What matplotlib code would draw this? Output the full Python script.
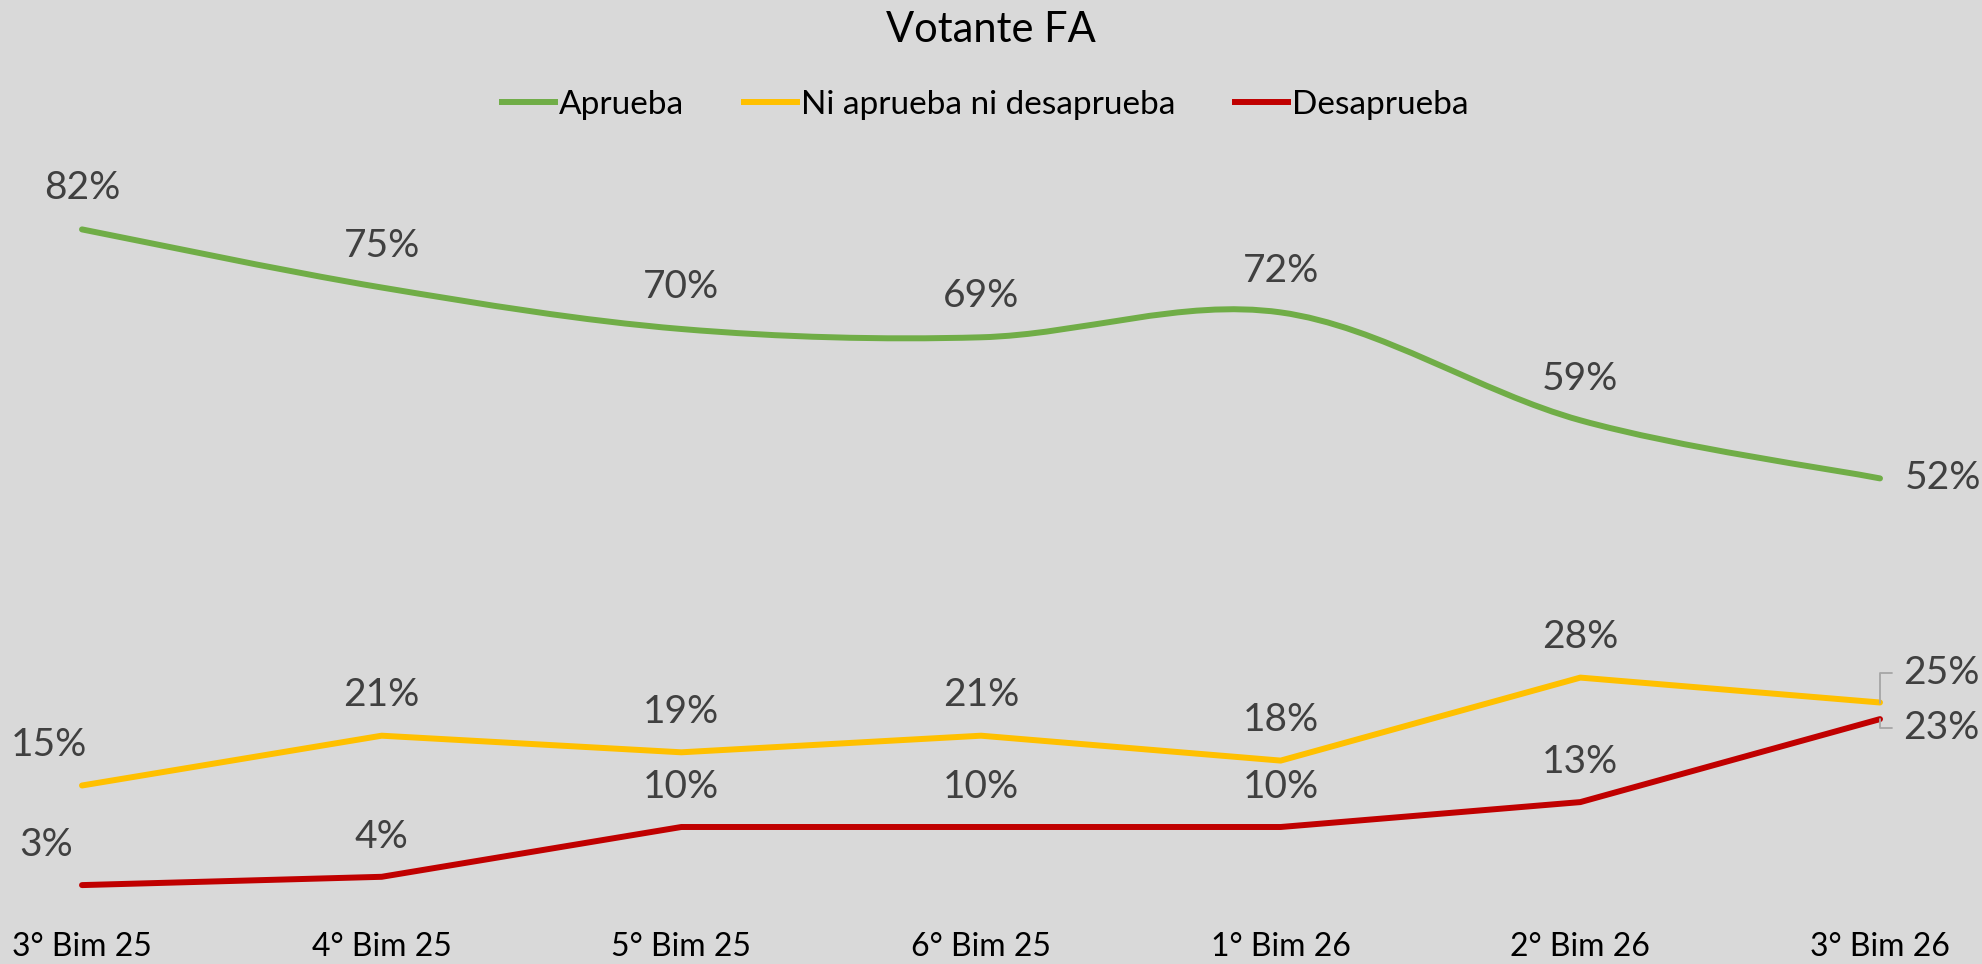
import matplotlib
matplotlib.use('Agg')
import matplotlib.pyplot as plt
from matplotlib.path import Path
from matplotlib.patches import PathPatch
from matplotlib.lines import Line2D

plt.rcParams['font.family'] = ['Lato', 'DejaVu Sans']

periodos = ['3° Bim 25', '4° Bim 25', '5° Bim 25', '6° Bim 25', '1° Bim 26', '2° Bim 26', '3° Bim 26']
aprueba = [82, 75, 70, 69, 72, 59, 52]
ni_ni = [15, 21, 19, 21, 18, 28, 25]
desaprueba = [3, 4, 10, 10, 10, 13, 23]

BG = '#D9D9D9'
VERDE = '#70AD47'
AMARILLO = '#FFC000'
ROJO = '#C00000'
LW = 4.3


def smooth_path(xs, ys):
    # curva suavizada estilo Excel (bezier tipo Catmull-Rom)
    pts = list(zip(xs, ys))
    n = len(pts)
    verts = [pts[0]]
    codes = [Path.MOVETO]
    for i in range(n - 1):
        p0 = pts[i - 1] if i > 0 else pts[i]
        p1 = pts[i]
        p2 = pts[i + 1]
        p3 = pts[i + 2] if i + 2 < n else pts[i + 1]
        c1 = (p1[0] + (p2[0] - p0[0]) / 6, p1[1] + (p2[1] - p0[1]) / 6)
        c2 = (p2[0] - (p3[0] - p1[0]) / 6, p2[1] - (p3[1] - p1[1]) / 6)
        verts += [c1, c2, p2]
        codes += [Path.CURVE4] * 3
    return Path(verts, codes)


fig = plt.figure(figsize=(19.82, 9.64), dpi=100, facecolor=BG)
ax = fig.add_axes([82 / 1982, 54 / 964, (1880 - 82) / 1982, 830 / 964])
ax.set_facecolor(BG)
ax.set_xlim(0, 6)
ax.set_ylim(0, 100)

x = list(range(len(periodos)))

patch = PathPatch(smooth_path(x, aprueba), fill=False, edgecolor=VERDE, lw=LW,
                  capstyle='round', joinstyle='round', clip_on=False)
ax.add_patch(patch)
ax.plot(x, ni_ni, color=AMARILLO, lw=LW, solid_capstyle='round', solid_joinstyle='round', clip_on=False)
ax.plot(x, desaprueba, color=ROJO, lw=LW, solid_capstyle='round', solid_joinstyle='round', clip_on=False)

lab = dict(fontsize=28, color='#404040', textcoords='offset points', va='center')
for i, v in enumerate(aprueba):
    if i == len(aprueba) - 1:
        ax.annotate(f'{v}%', (i, v), xytext=(18, 0), ha='left', **lab)
    else:
        ax.annotate(f'{v}%', (i, v), xytext=(0, 30), ha='center', **lab)

for i, v in enumerate(ni_ni):
    if i == len(ni_ni) - 1:
        ax.annotate(f'{v}%', (i, v), xytext=(17, 21), ha='left',
                    arrowprops=dict(arrowstyle='-', color='#A6A6A6', lw=1.3,
                                    connectionstyle='angle,angleA=0,angleB=90,rad=0',
                                    shrinkA=6, shrinkB=0), **lab)
    else:
        dx = -24 if i == 0 else 0
        ax.annotate(f'{v}%', (i, v), xytext=(dx, 29), ha='center', **lab)

for i, v in enumerate(desaprueba):
    if i == len(desaprueba) - 1:
        ax.annotate(f'{v}%', (i, v), xytext=(17, -6.5), ha='left',
                    arrowprops=dict(arrowstyle='-', color='#A6A6A6', lw=1.3,
                                    connectionstyle='angle,angleA=0,angleB=90,rad=0',
                                    shrinkA=6, shrinkB=0), **lab)
    else:
        dx = -26 if i == 0 else 0
        ax.annotate(f'{v}%', (i, v), xytext=(dx, 29), ha='center', **lab)

ax.set_xticks(x)
ax.set_xticklabels(periodos, fontsize=23, color='black')
ax.tick_params(axis='x', length=0, pad=16)
ax.set_yticks([])
for s in ax.spines.values():
    s.set_visible(False)

fig.text(0.5, 1 - 30 / 964, 'Votante FA', ha='center', va='center', fontsize=30, color='black')

handles = [Line2D([], [], color=VERDE, lw=LW),
           Line2D([], [], color=AMARILLO, lw=LW),
           Line2D([], [], color=ROJO, lw=LW)]
fig.legend(handles, ['Aprueba', 'Ni aprueba ni desaprueba', 'Desaprueba'],
           loc='center', bbox_to_anchor=(0.497, 1 - 105 / 964), ncol=3, frameon=False,
           prop={'size': 24}, handlelength=1.6, handletextpad=0.1,
           columnspacing=1.8)

fig.savefig('out.png', dpi=100, facecolor=BG)
